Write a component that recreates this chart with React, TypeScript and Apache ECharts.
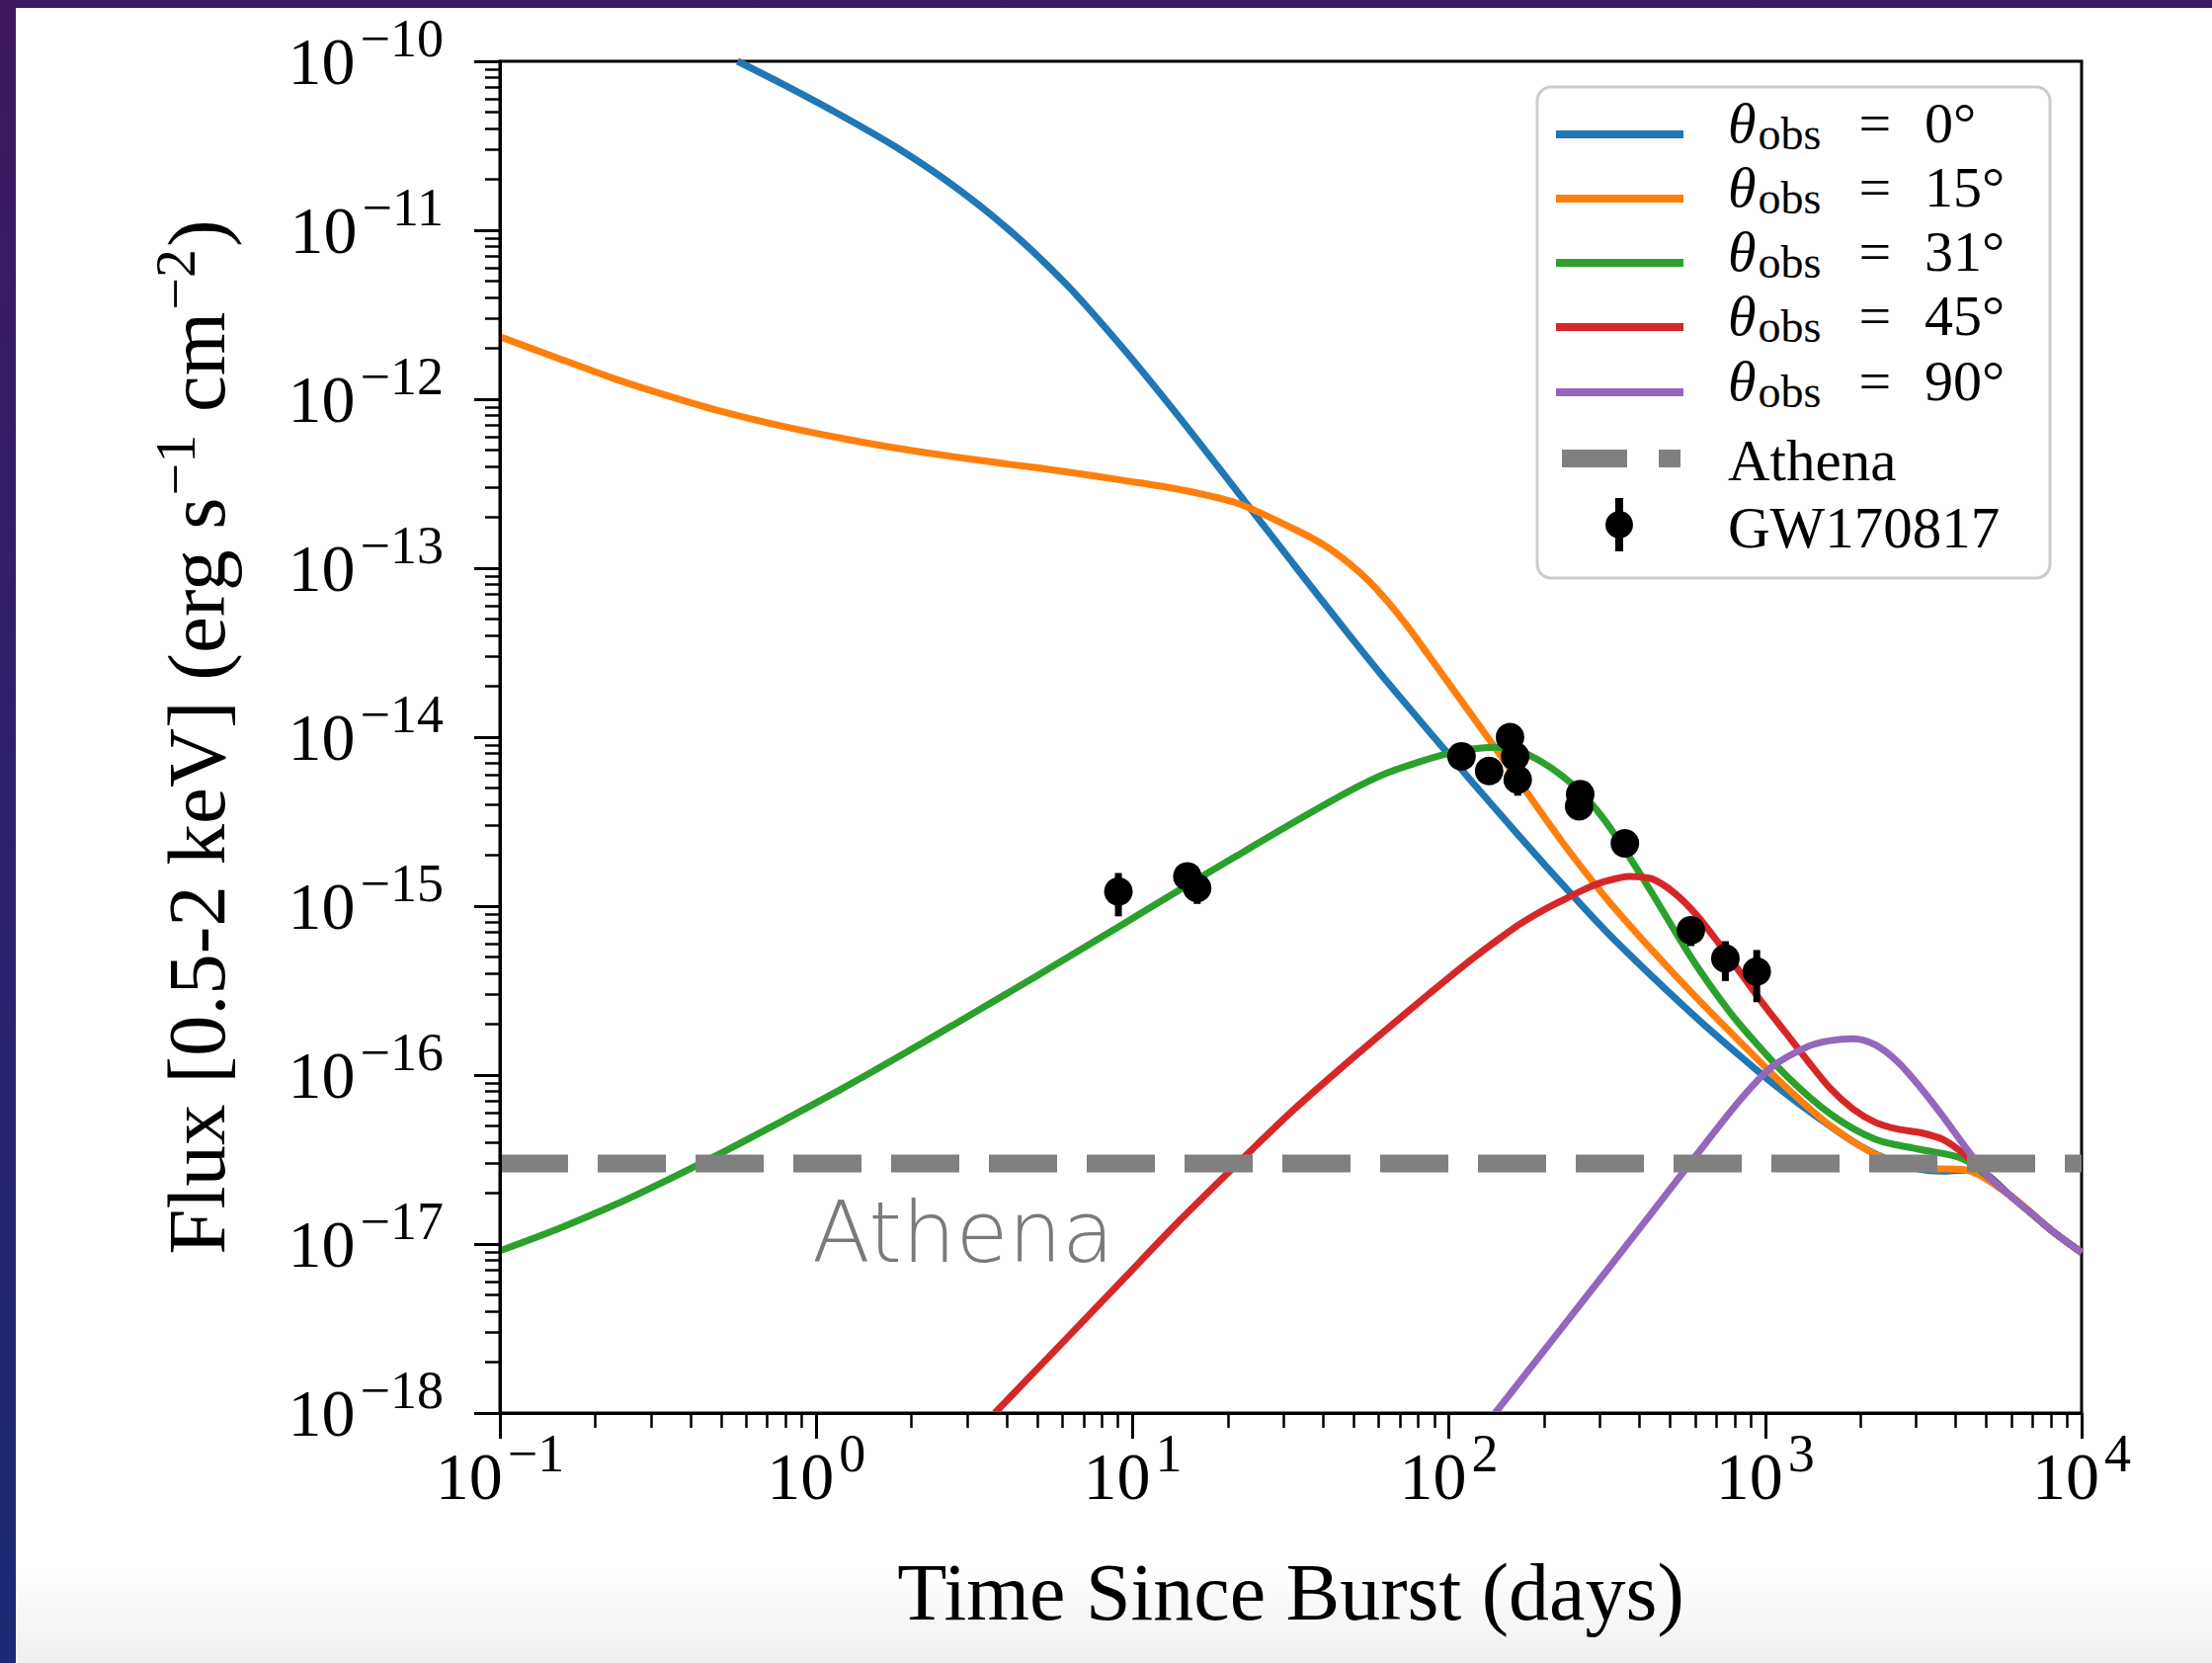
import React, { useEffect, useRef } from "react";
import * as echarts from "echarts";

const W = 2239;
const H = 1683;

// ---------- data ----------
const colors = ["#1f77b4", "#ff7f0e", "#2ca02c", "#d62728", "#9467bd"];
const angleLabels = ["0°", "15°", "31°", "45°", "90°"];

const tObs0 = [0.564, 0.80, 1.19, 1.79, 2.70, 4.08, 6.17, 9.33, 14.1, 21.3, 32.1, 48.6, 62.1, 85.9, 119, 165, 228, 316, 438, 605, 839, 1052, 1368, 1892, 2377, 3083, 3631, 4266, 5012, 5916, 6966, 8185, 10000];
const fObs0 = [1.0e-10, 7.18e-11, 4.82e-11, 3.10e-11, 1.85e-11, 1.0e-11, 4.79e-12, 2.0e-12, 7.76e-13, 2.88e-13, 1.07e-13, 3.98e-14, 2.26e-14, 1.10e-14, 5.37e-15, 2.66e-15, 1.35e-15, 7.00e-16, 3.85e-16, 2.19e-16, 1.28e-16, 8.99e-17, 6.17e-17, 4.05e-17, 3.24e-17, 2.77e-17, 2.70e-17, 2.74e-17, 2.57e-17, 1.95e-17, 1.51e-17, 1.17e-17, 8.91e-18];

const tObs15 = [0.1, 0.151, 0.228, 0.344, 0.519, 0.783, 1.19, 1.79, 2.70, 4.08, 6.17, 9.33, 14.1, 21.3, 32.1, 40, 48.6, 56, 64.3, 74, 85.9, 119, 165, 228, 316, 438, 605, 839, 1161, 1607, 2228, 3083, 4266, 5916, 8185, 10000];
const fObs15 = [2.34e-12, 1.76e-12, 1.33e-12, 1.04e-12, 8.32e-13, 6.92e-13, 5.89e-13, 5.13e-13, 4.57e-13, 4.12e-13, 3.72e-13, 3.31e-13, 2.92e-13, 2.43e-13, 1.72e-13, 1.38e-13, 1.06e-13, 8.34e-14, 6.28e-14, 4.52e-14, 3.08e-14, 1.32e-14, 5.62e-15, 2.40e-15, 1.10e-15, 5.50e-16, 2.88e-16, 1.55e-16, 8.51e-17, 5.01e-17, 3.39e-17, 2.82e-17, 2.75e-17, 1.95e-17, 1.17e-17, 8.91e-18];

const tObs31 = [0.1, 0.151, 0.228, 0.344, 0.519, 0.783, 1.19, 1.79, 2.70, 4.08, 6.17, 9.33, 14.1, 21.3, 32.1, 48.6, 64.3, 85.9, 101, 119, 140, 165, 194, 228, 269, 316, 372, 438, 515, 605, 713, 839, 1161, 1607, 2228, 3083, 4266, 5916, 8185, 10000];
const fObs31 = [9.12e-18, 1.22e-17, 1.69e-17, 2.43e-17, 3.58e-17, 5.36e-17, 8.18e-17, 1.26e-16, 1.97e-16, 3.10e-16, 4.91e-16, 7.83e-16, 1.25e-15, 1.98e-15, 3.11e-15, 4.81e-15, 6.17e-15, 7.41e-15, 8.04e-15, 8.51e-15, 8.71e-15, 8.32e-15, 7.24e-15, 5.89e-15, 4.47e-15, 3.09e-15, 1.95e-15, 1.20e-15, 7.24e-16, 4.47e-16, 2.88e-16, 1.95e-16, 1.00e-16, 5.89e-17, 4.17e-17, 3.63e-17, 3.16e-17, 1.95e-17, 1.17e-17, 8.91e-18];

const tObs45 = [3.67, 6.17, 9.33, 14.1, 21.3, 32.1, 48.6, 62.1, 85.9, 119, 165, 194, 228, 269, 316, 372, 438, 515, 605, 713, 839, 986, 1161, 1368, 1607, 1892, 2228, 2620, 3083, 3631, 4266, 5012, 5916, 6966, 8185, 10000];
const fObs45 = [1.0e-18, 2.75e-18, 6.17e-18, 1.38e-17, 2.95e-17, 6.17e-17, 1.22e-16, 1.80e-16, 2.99e-16, 4.90e-16, 7.67e-16, 9.23e-16, 1.08e-15, 1.26e-15, 1.41e-15, 1.50e-15, 1.45e-15, 1.20e-15, 8.91e-16, 6.03e-16, 3.98e-16, 2.63e-16, 1.78e-16, 1.20e-16, 8.32e-17, 6.31e-17, 5.25e-17, 4.79e-17, 4.57e-17, 4.17e-17, 3.39e-17, 2.57e-17, 1.95e-17, 1.51e-17, 1.17e-17, 8.91e-18];

const tObs90 = [140, 327, 438, 605, 839, 1052, 1368, 1607, 1892, 2228, 2620, 3083, 3631, 4266, 5012, 5916, 6966, 8185, 10000];
const fObs90 = [1.0e-18, 7.59e-18, 1.53e-17, 3.35e-17, 7.24e-17, 1.12e-16, 1.48e-16, 1.60e-16, 1.64e-16, 1.51e-16, 1.20e-16, 8.51e-17, 5.75e-17, 3.80e-17, 2.57e-17, 1.95e-17, 1.51e-17, 1.17e-17, 8.91e-18];

const curveTimes = [tObs0, tObs15, tObs31, tObs45, tObs90];
const curveFluxes = [fObs0, fObs15, fObs31, fObs45, fObs90];

const athenaFlux = 3e-17;
const athenaTimes = [0.1, 10000];

const gwTime = [9.02, 14.9, 16.0, 109.6, 134, 156, 162, 165, 260, 258, 360, 582, 748, 940];
const gwFlux = [1.22e-15, 1.50e-15, 1.28e-15, 7.7e-15, 6.3e-15, 1.0e-14, 7.7e-15, 5.6e-15, 4.6e-15, 3.9e-15, 2.35e-15, 7.2e-16, 4.9e-16, 4.1e-16];
const gwErr = [0.35e-15, 0.2e-15, 0.25e-15, 0.5e-15, 0.6e-15, 1.0e-15, 1.0e-15, 1.1e-15, 0.5e-15, 0.5e-15, 0.3e-15, 1.4e-16, 1.3e-16, 1.4e-16];

const xMajorTicks = [0.1, 1, 10, 100, 1000, 10000];
const yMajorTicks = [1e-18, 1e-17, 1e-16, 1e-15, 1e-14, 1e-13, 1e-12, 1e-11, 1e-10];
const minorMultipliers = [2, 3, 4, 5, 6, 7, 8, 9];

const xTitle = "Time Since Burst (days)";
const legendExtra = ["Athena", "GW170817"];
const annotationText = "Athena";

// ---------- helpers ----------
const minorTicks = (majors: number[]) => {
  const out: number[] = [];
  for (let i = 0; i < majors.length - 1; i++) {
    for (const m of minorMultipliers) out.push(m * majors[i]);
  }
  return out;
};

const SERIF = "'Liberation Serif', 'DejaVu Serif', serif";

const powLabel = (v: number) => {
  const e = Math.round(Math.log10(v));
  const s = e < 0 ? "\u2212" + Math.abs(e) : String(e);
  return "{b|10}{s|" + s + "}";
};

const tickRich = {
  b: { fontFamily: SERIF, fontSize: 68, color: "#000", verticalAlign: "bottom", lineHeight: 68 },
  s: { fontFamily: SERIF, fontSize: 54, color: "#000", verticalAlign: "bottom", lineHeight: 54, padding: [0, 0, 30, 5] },
};

const titleRich = {
  b: { fontFamily: SERIF, fontSize: 83, color: "#000", verticalAlign: "bottom", lineHeight: 83 },
  s: { fontFamily: SERIF, fontSize: 58, color: "#000", verticalAlign: "bottom", lineHeight: 58, padding: [0, 2, 34, 2] },
};

export default function App() {
  const ref = useRef<HTMLDivElement>(null);

  useEffect(() => {
    if (!ref.current) return;
    const chart = echarts.init(ref.current, null, { renderer: "svg", width: W, height: H });

    const axisCommonLine = { color: "#000", width: 3 };

    const curveSeries = curveTimes.map((ts, i) => ({
      type: "line",
      name: "obs" + angleLabels[i],
      xAxisIndex: 0,
      yAxisIndex: 0,
      data: ts.map((t, j) => [t, curveFluxes[i][j]]),
      showSymbol: false,
      symbol: "none",
      smooth: 0.3,
      clip: true,
      silent: true,
      z: 2 + i,
      lineStyle: { color: colors[i], width: 7 },
      itemStyle: { color: colors[i] },
    }));

    const athenaSeries = {
      type: "line",
      name: "Athena",
      xAxisIndex: 0,
      yAxisIndex: 0,
      data: athenaTimes.map((t) => [t, athenaFlux]),
      showSymbol: false,
      symbol: "none",
      silent: true,
      z: 8,
      lineStyle: { color: "#808080", width: 18, type: [69, 30], cap: "butt" },
    };

    const gwSeries = {
      type: "custom",
      name: "GW170817",
      xAxisIndex: 0,
      yAxisIndex: 0,
      z: 9,
      silent: true,
      encode: { x: 0, y: 1 },
      data: gwTime.map((t, i) => [t, gwFlux[i], gwErr[i]]),
      renderItem: (params: any, api: any) => {
        const t = api.value(0);
        const f = api.value(1);
        const e = api.value(2);
        const c = api.coord([t, f]);
        const hi = api.coord([t, f + e]);
        const lo = api.coord([t, Math.max(f - e, 1e-30)]);
        return {
          type: "group",
          children: [
            { type: "line", shape: { x1: c[0], y1: hi[1], x2: c[0], y2: lo[1] }, style: { stroke: "#000", lineWidth: 7 } },
            { type: "circle", shape: { cx: c[0], cy: c[1], r: 14.5 }, style: { fill: "#000" } },
          ],
        };
      },
    };

    // legend drawn as graphic
    const LX = 1556, LY = 88, LW = 519, LH = 497;
    const rowY = [136, 201, 266, 331, 397, 464, 531];
    const handleX1 = 1575, handleX2 = 1704, textX = 1749;
    const legendEls: any[] = [
      {
        type: "rect",
        shape: { x: LX, y: LY, width: LW, height: LH, r: 14 },
        style: { fill: "rgba(255,255,255,0.85)", stroke: "#cccccc", lineWidth: 3 },
        z: 20,
      },
    ];
    angleLabels.forEach((a, i) => {
      legendEls.push({
        type: "line",
        shape: { x1: handleX1, y1: rowY[i], x2: handleX2, y2: rowY[i] },
        style: { stroke: colors[i], lineWidth: 8 },
        z: 21,
      });
      legendEls.push({
        type: "text",
        x: textX,
        y: rowY[i] - 3,
        z: 21,
        style: {
          text: "{t|θ}{o|obs}{e|=}{v|" + a + "}",
          verticalAlign: "middle",
          align: "left",
          rich: {
            t: { fontFamily: SERIF, fontStyle: "italic", fontSize: 58, fill: "#000", verticalAlign: "bottom", lineHeight: 50, padding: [0, 2, 5, 0] },
            o: { fontFamily: SERIF, fontSize: 46, fill: "#000", verticalAlign: "bottom", lineHeight: 40 },
            e: { fontFamily: SERIF, fontSize: 58, fill: "#000", verticalAlign: "bottom", lineHeight: 50, padding: [0, 34, 5, 38] },
            v: { fontFamily: SERIF, fontSize: 58, fill: "#000", verticalAlign: "bottom", lineHeight: 50, padding: [0, 0, 5, 0] },
          },
        },
      });
    });
    // Athena handle
    legendEls.push({ type: "rect", shape: { x: 1581, y: rowY[5] - 9, width: 66, height: 18 }, style: { fill: "#808080" }, z: 21 });
    legendEls.push({ type: "rect", shape: { x: 1679, y: rowY[5] - 9, width: 22, height: 18 }, style: { fill: "#808080" }, z: 21 });
    legendEls.push({
      type: "text", x: textX, y: rowY[5] + 2, z: 21,
      style: { text: legendExtra[0], fontFamily: SERIF, fontSize: 59, lineHeight: 56, fill: "#000", verticalAlign: "middle", align: "left" },
    });
    // GW handle
    legendEls.push({ type: "line", shape: { x1: 1639, y1: rowY[6] - 27, x2: 1639, y2: rowY[6] + 27 }, style: { stroke: "#000", lineWidth: 8 }, z: 21 });
    legendEls.push({ type: "circle", shape: { cx: 1639, cy: rowY[6], r: 14 }, style: { fill: "#000" }, z: 21 });
    legendEls.push({
      type: "text", x: textX, y: rowY[6] + 3, z: 21,
      style: { text: legendExtra[1], fontFamily: SERIF, fontSize: 59, lineHeight: 56, fill: "#000", verticalAlign: "middle", align: "left" },
    });

    // "Athena" annotation
    legendEls.push({
      type: "text", x: 822, y: 1247, z: 21,
      style: { text: annotationText, fontFamily: "'DejaVu Sans', 'Open Sans', sans-serif", fontSize: 86, fontWeight: 300, fill: "#7a7a7a", verticalAlign: "middle", align: "left" },
    });

    const option: any = {
      animation: false,
      backgroundColor: "transparent",
      grid: {
        left: 506, top: 62, right: 132, bottom: 253,
        show: true, borderColor: "#000", borderWidth: 3, backgroundColor: "transparent",
      },
      xAxis: [
        {
          type: "log", logBase: 10, min: 0.1, max: 10000, position: "bottom", z: 10,
          axisLine: { show: true, lineStyle: axisCommonLine },
          axisTick: { show: true, inside: false, length: 26, lineStyle: axisCommonLine, customValues: xMajorTicks },
          axisLabel: { show: true, margin: 30, customValues: xMajorTicks, formatter: powLabel, rich: tickRich },
          minorTick: { show: false },
          splitLine: { show: false },
          name: xTitle, nameLocation: "middle", nameGap: 140,
          nameTextStyle: { fontFamily: SERIF, fontSize: 82, color: "#000" },
        },
        {
          type: "log", logBase: 10, min: 0.1, max: 10000, position: "bottom", z: 10,
          axisLine: { show: false },
          axisTick: { show: true, inside: false, length: 15, lineStyle: { color: "#000", width: 2.5 }, customValues: minorTicks(xMajorTicks) },
          axisLabel: { show: false },
          splitLine: { show: false },
        },
      ],
      yAxis: [
        {
          type: "log", logBase: 10, min: 1e-18, max: 1e-10, position: "left", z: 10,
          axisLine: { show: true, lineStyle: axisCommonLine },
          axisTick: { show: true, inside: false, length: 26, lineStyle: axisCommonLine, customValues: yMajorTicks },
          axisLabel: { show: true, margin: 57, customValues: yMajorTicks, formatter: powLabel, rich: tickRich },
          minorTick: { show: false },
          splitLine: { show: false },
          name: "{b|Flux [0.5-2 keV] (erg s}{s|\u22121}{b|\u00a0cm}{s|\u22122}{b|)}",
          nameLocation: "middle", nameGap: 266, nameRotate: 90,
          nameTextStyle: { fontFamily: SERIF, fontSize: 83, color: "#000", rich: titleRich },
        },
        {
          type: "log", logBase: 10, min: 1e-18, max: 1e-10, position: "left", z: 10,
          axisLine: { show: false },
          axisTick: { show: true, inside: false, length: 15, lineStyle: { color: "#000", width: 2.5 }, customValues: minorTicks(yMajorTicks) },
          axisLabel: { show: false },
          splitLine: { show: false },
        },
      ],
      series: [...curveSeries, athenaSeries, gwSeries],
      graphic: { elements: legendEls },
    };

    chart.setOption(option);
    return () => chart.dispose();
  }, []);

  return (
    <div style={{ position: "absolute", left: 0, top: 0, width: W, height: H, overflow: "hidden", background: "linear-gradient(180deg, #3e1a60 0%, #2c2270 55%, #1b2a74 100%)" }}>
      <div style={{ position: "absolute", left: 16, top: 8, right: 0, bottom: 0, background: "linear-gradient(180deg, #ffffff 0%, #ffffff 94.5%, #efefef 100%)" }} />
      <div ref={ref} style={{ position: "absolute", left: 0, top: 0, width: W, height: H }} />
    </div>
  );
}
